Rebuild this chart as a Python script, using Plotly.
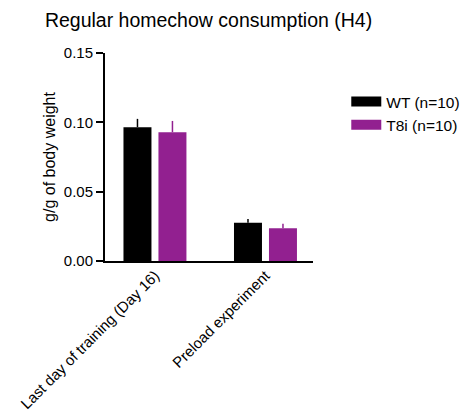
import plotly.graph_objects as go

categories = ["Last day of training (Day 16)", "Preload experiment"]
wt_mean = [0.0965, 0.0275]
wt_sem = [0.0060, 0.0027]
t8i_mean = [0.0929, 0.0236]
t8i_sem = [0.0081, 0.0032]
series_names = ["WT (n=10)", "T8i (n=10)"]
colors = ["#000000", "#922090"]

fig = go.Figure()
for name, mean, sem, col in zip(series_names, [wt_mean, t8i_mean], [wt_sem, t8i_sem], colors):
    fig.add_trace(go.Bar(
        x=categories, y=mean, name=name, marker=dict(color=col, line=dict(width=0)),
        error_y=dict(type="data", array=sem, arrayminus=[0] * len(sem), symmetric=False,
                     color=col, thickness=1.5, width=0),
        showlegend=False,
    ))
    fig.add_trace(go.Scatter(
        x=[None], y=[None], mode="lines", name=name,
        line=dict(color=col, width=12), showlegend=True,
    ))

# page has an 8px body margin, so the figure is sized to fit the window
fig.update_layout(
    width=461, height=406,
    margin=dict(l=97, r=156, t=45, b=153, autoexpand=False),
    paper_bgcolor="white", plot_bgcolor="white",
    font=dict(family="Liberation Sans, Arial, sans-serif", color="black", size=15),
    title=dict(text="Regular homechow consumption (H4)", x=0.080, xanchor="left",
               y=0.969, yanchor="middle", font=dict(size=19.5)),
    barmode="group", bargap=0.367, bargroupgap=0.2,
    legend=dict(x=1.16, y=0.846, xanchor="left", yanchor="top", font=dict(size=15.5),
                tracegroupgap=2, itemwidth=30),
    xaxis=dict(range=[-0.452, 1.43], showline=True, linecolor="black", linewidth=2,
               ticks="", tickangle=-45, tickfont=dict(size=15), showgrid=False, zeroline=False,
               automargin=False, ticklabelstandoff=-2),
    yaxis=dict(range=[0, 0.15], tickvals=[0, 0.05, 0.10, 0.15], ticktext=["0.00", "0.05", "0.10", "0.15"],
               showline=True, linecolor="black", linewidth=2, ticks="outside", ticklen=7,
               tickwidth=2, tickcolor="black", tickfont=dict(size=15), showgrid=False, zeroline=False,
               automargin=False,
               title=dict(text="g/g of body weight", font=dict(size=16), standoff=4)),
)
fig.write_html("out.html")
